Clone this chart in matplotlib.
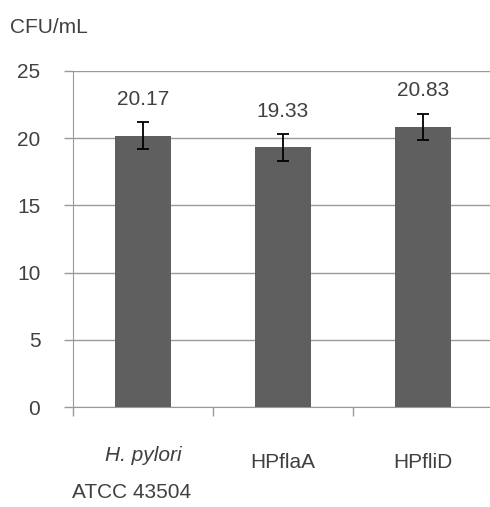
import numpy as np
import matplotlib.pyplot as plt

plt.rcParams['font.family'] = ['Liberation Sans', 'DejaVu Sans']

# -----------------------------
# Data
# -----------------------------
groups = ["H. pylori", "HPflaA", "HPfliD"]
means = [20.17, 19.33, 20.83]
errors = [1.0, 1.0, 1.0]
yticks = [0, 5, 10, 15, 20, 25]

text_col = "#404040"
grid_col = "#9a9a9a"
fs = 15

fig = plt.figure(figsize=(4.9, 5.07), dpi=100)
ax = fig.add_axes([0.149, 0.197, 0.857, 0.663])

x = np.arange(len(groups))
ax.bar(x, means, width=0.4, color="#5f5f5f", zorder=3)
ax.errorbar(x, means, yerr=errors, fmt="none", ecolor="black",
            elinewidth=1.3, capsize=4, capthick=1.3, zorder=4)

# value labels above the bars
for xi, m in zip(x, means):
    ax.annotate("%.2f" % m, (xi, m), xytext=(0, 26), textcoords="offset points",
                ha="center", va="center", fontsize=fs, color=text_col)

ax.set_xlim(-0.5, len(groups) - 0.5)
ax.set_ylim(0, 25)
ax.set_yticks(yticks)
ax.yaxis.grid(True, color=grid_col, linewidth=1, zorder=0)

# category separators as minor ticks
ax.set_xticks(x)
ax.set_xticklabels([])
ax.tick_params(axis="x", which="major", length=0)
ax.set_xticks(np.arange(-0.5, len(groups), 1.0), minor=True)
ax.tick_params(axis="x", which="minor", length=6.5, color=grid_col, width=1)
ax.tick_params(axis="y", length=6.5, color=grid_col, width=1, pad=17,
               labelsize=fs, labelcolor=text_col)

# category labels
trans = ax.get_xaxis_transform()
ax.text(0, -0.143, groups[0], transform=trans, ha="center", va="center",
        fontsize=fs, style="italic", color=text_col)
ax.text(-0.08, -0.255, "ATCC 43504", transform=trans, ha="center", va="center",
        fontsize=fs, color=text_col)
for xi, g in zip(x[1:], groups[1:]):
    ax.text(xi, -0.164, g, transform=trans, ha="center", va="center",
            fontsize=fs, color=text_col)

for side in ["top", "right"]:
    ax.spines[side].set_visible(False)
ax.spines["left"].set_color(grid_col)
ax.spines["bottom"].set_color(grid_col)

fig.text(0.02, 0.946, "CFU/mL", fontsize=fs, color=text_col, va="center")

plt.savefig("out.png", dpi=100)
